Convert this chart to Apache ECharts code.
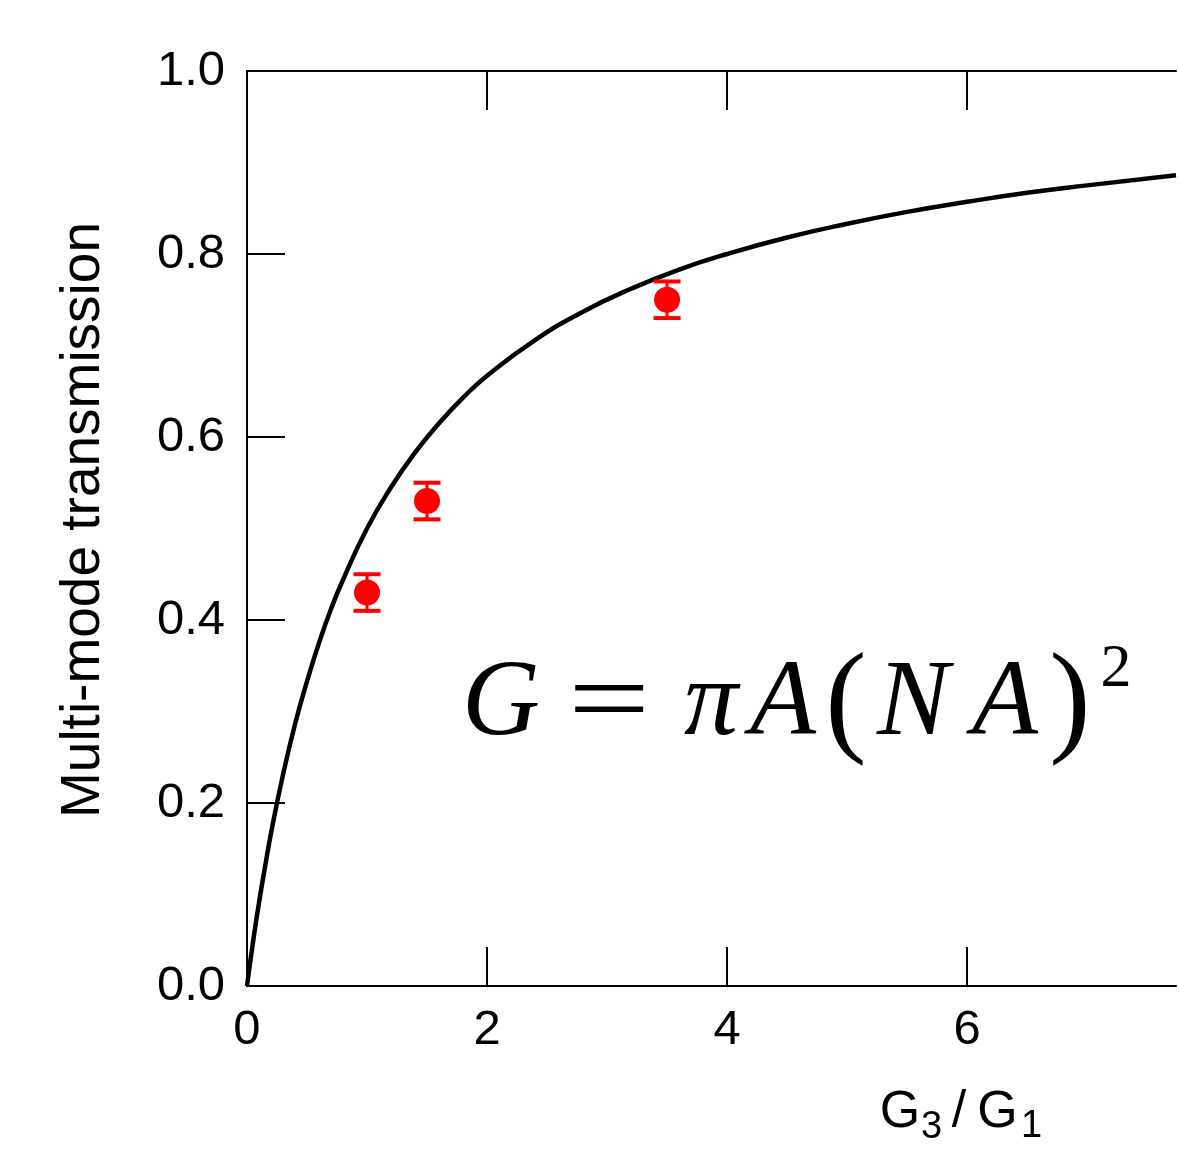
<!DOCTYPE html>
<html>
<head>
<meta charset="utf-8">
<script src="https://cdn.jsdelivr.net/npm/echarts@6/dist/echarts.min.js"></script>
<style>
html,body{margin:0;padding:0;background:#fff;}
#main{width:1179px;height:1174px;}
</style>
</head>
<body>
<div id="main"></div>
<script>
// Model curve
const curveX = [0, 0.05, 0.1, 0.15, 0.2, 0.3, 0.4, 0.5, 0.6, 0.7, 0.8, 1.0, 1.2, 1.4, 1.6, 1.8, 2.0, 2.4, 2.8, 3.2, 3.6, 4.0, 4.5, 5.0, 5.5, 6.0, 6.5, 7.0, 7.74];
const curveY = [0, 0.048, 0.091, 0.130, 0.167, 0.231, 0.286, 0.333, 0.375, 0.412, 0.444, 0.500, 0.545, 0.583, 0.615, 0.643, 0.667, 0.706, 0.737, 0.762, 0.783, 0.800, 0.818, 0.833, 0.846, 0.857, 0.867, 0.875, 0.886];
// Measured points
const pointX = [1.0, 1.5, 3.5];
const pointY = [0.43, 0.53, 0.75];
const pointErr = [0.02, 0.02, 0.02];
// Axis ticks
const xTickValues = [0, 2, 4, 6];
const xInnerTicks = [2, 4, 6];
const xMin = 0, xMax = 7.74;
const yMin = 0, yMax = 1.0, yStep = 0.2;
const yTitle = 'Multi-mode transmission';

const chart = echarts.init(document.getElementById('main'), null, {renderer: 'canvas'});
const sans = '"Liberation Sans", Arial, Helvetica, sans-serif';
const serif = '"Liberation Serif", "Times New Roman", serif';
const black = '#000';

const curveData = curveX.map((x, i) => [x, curveY[i]]);
const pointData = pointX.map((x, i) => [x, pointY[i]]);
const errData = pointX.map((x, i) => [x, pointY[i] - pointErr[i], pointY[i] + pointErr[i]]);

const axisCommon = {
  type: 'value', min: xMin, max: xMax, interval: 2,
  axisLine: {show: true, onZero: false, lineStyle: {color: black, width: 2}},
  splitLine: {show: false}
};

function glyph(text, cx, cy, size, opts) {
  opts = opts || {};
  return {
    type: 'text', x: cx, y: cy, z: 10,
    scaleX: opts.scaleX || 1,
    style: {
      text: text, fill: black,
      font: (opts.italic ? 'italic ' : '') + size + 'px ' + (opts.family || serif),
      textAlign: 'center', textVerticalAlign: 'middle'
    }
  };
}

const option = {
  animation: false,
  backgroundColor: '#fff',
  grid: {left: 247, top: 71, right: 3, bottom: 188, containLabel: false},
  xAxis: [
    Object.assign({}, axisCommon, {
      position: 'bottom',
      axisTick: {show: true, inside: true, length: 39, customValues: xInnerTicks, lineStyle: {color: black, width: 2}},
      axisLabel: {show: true, customValues: xTickValues, margin: 20, color: black, fontSize: 49, fontFamily: sans,
        formatter: v => String(v)}
    }),
    Object.assign({}, axisCommon, {
      position: 'top',
      axisTick: {show: true, inside: true, length: 39, customValues: xInnerTicks, lineStyle: {color: black, width: 2}},
      axisLabel: {show: false}
    })
  ],
  yAxis: {
    type: 'value', min: yMin, max: yMax, interval: yStep, position: 'left',
    axisLine: {show: true, onZero: false, lineStyle: {color: black, width: 2}},
    axisTick: {show: true, inside: true, length: 38, lineStyle: {color: black, width: 2}},
    axisLabel: {show: true, margin: 22, color: black, fontSize: 49, fontFamily: sans,
      formatter: v => v.toFixed(1)},
    splitLine: {show: false}
  },
  series: [
    {
      type: 'line', xAxisIndex: 0, data: curveData, smooth: 0.5,
      showSymbol: false, symbol: 'none', clip: true,
      lineStyle: {color: black, width: 4.5}, z: 2
    },
    {
      type: 'custom', xAxisIndex: 0, data: errData, z: 3,
      renderItem: function (params, api) {
        const x = api.value(0);
        const lo = api.coord([x, api.value(1)]);
        const hi = api.coord([x, api.value(2)]);
        const hw = 13.5;
        const st = {stroke: '#ff0000', lineWidth: 3};
        const cap = {stroke: '#ff0000', lineWidth: 4};
        return {
          type: 'group',
          children: [
            {type: 'line', shape: {x1: lo[0], y1: lo[1], x2: hi[0], y2: hi[1]}, style: st},
            {type: 'line', shape: {x1: lo[0] - hw, y1: lo[1], x2: lo[0] + hw, y2: lo[1]}, style: cap},
            {type: 'line', shape: {x1: hi[0] - hw, y1: hi[1], x2: hi[0] + hw, y2: hi[1]}, style: cap}
          ]
        };
      }
    },
    {
      type: 'scatter', xAxisIndex: 0, data: pointData, symbol: 'circle', symbolSize: 26,
      itemStyle: {color: '#ff0000', opacity: 1}, z: 4
    }
  ],
  graphic: [
    {
      type: 'text', x: 84, y: 520, rotation: Math.PI / 2,
      style: {text: yTitle, fill: black, font: '55px ' + sans, textAlign: 'center', textVerticalAlign: 'middle'}
    },
    // x-axis title G3 / G1
    glyph('G', 900, 1113, 52, {family: sans}),
    glyph('3', 931.5, 1128, 38, {family: sans}),
    glyph('/', 959, 1113, 52, {family: sans}),
    glyph('G', 997.5, 1113, 52, {family: sans}),
    glyph('1', 1031.5, 1127, 38, {family: sans}),
    // formula G = πA(NA)^2
    glyph('G', 501, 706, 108, {italic: true}),
    glyph('=', 609, 706, 108, {scaleX: 1.35}),
    glyph('π', 711, 706, 108, {italic: true}),
    glyph('A', 783, 706, 108, {italic: true}),
    glyph('(', 846, 706, 124),
    glyph('N', 913, 706, 108, {italic: true}),
    glyph('A', 1005, 706, 108, {italic: true}),
    glyph(')', 1070, 706, 124),
    glyph('2', 1116, 670, 62)
  ]
};
chart.setOption(option);
</script>
</body>
</html>
